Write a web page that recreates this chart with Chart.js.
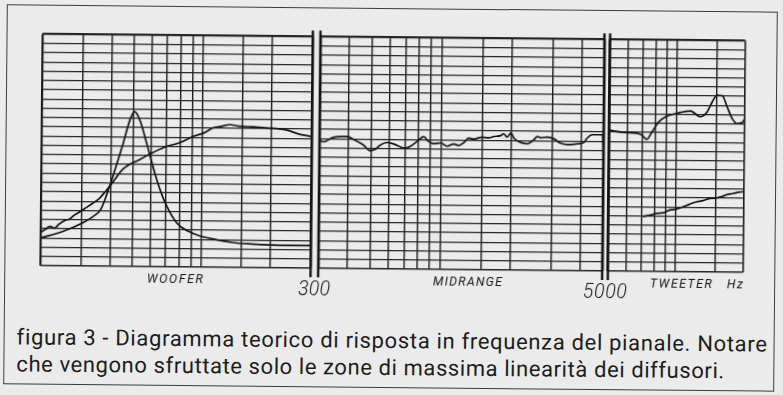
<!DOCTYPE html>
<html lang="it">
<head>
<meta charset="utf-8">
<title>figura 3 - risposta in frequenza del pianale</title>
<script src="https://cdn.jsdelivr.net/npm/chart.js@4.4.1/dist/chart.umd.min.js"></script>
<style>
  html, body { margin:0; padding:0; width:783px; height:395px; overflow:hidden; background:#ebebeb; }
  #sheet { position:absolute; left:0; top:0; width:783px; height:395px; transform:rotate(0.55deg); transform-origin:391px 197px; }
  #frame { position:absolute; left:5px; top:8px; width:771px; height:380px; border:1px solid #3c3c3c; box-sizing:border-box; }
  #sheet canvas { position:absolute; top:0; }
  .caption { position:absolute; left:18px; margin:0; font-family:Roboto, "Liberation Sans", Arial, sans-serif; font-weight:400; font-size:22px; line-height:22px; color:#1d1d1d; white-space:nowrap; }
</style>
</head>
<body>
<div id="sheet">
  <div id="frame"></div>
  <canvas id="woofer" width="316" height="305" style="left:0px"></canvas>
  <canvas id="midrange" width="340" height="305" style="left:290px"></canvas>
  <canvas id="tweeter" width="208" height="305" style="left:575px"></canvas>
  <p class="caption" id="cap1" style="top:330px">figura 3 - Diagramma teorico di risposta in frequenza del pianale. Notare</p>
  <p class="caption" id="cap2" style="top:357px">che vengono sfruttate solo le zone di massima linearità dei diffusori.</p>
</div>
<script>
// Log-paper grid lines (Hz) for each band
const wooferGridHz  = [20, 30, 40, 50, 60, 70, 80, 90, 100, 150, 200, 300];
const midGridHz     = [300, 400, 500, 600, 700, 800, 900, 1000, 1500, 2000, 3000, 4000, 5000];
const tweeterGridHz = [5000, 6000, 7000, 8000, 9000, 10000, 15000, 20000];

// Crossover frequencies printed under the dividers
const crossoverLabels = ['300', '5000'];
const bandNames = ['WOOFER', 'MIDRANGE', 'TWEETER'];
const unitLabel = 'Hz';

// Woofer: resonance peak curve
const wooferPeakHz = [20, 24.8, 30.3, 33.5, 36.5, 40, 42.5, 45.3, 48.4, 50.6, 53.5, 57, 60.2, 64.2, 70, 78.4, 88, 97.6, 115, 136, 166, 200, 248, 300];
const wooferPeakDb = [6.0, 7.4, 9.3, 10.6, 12.4, 17.8, 22.0, 26.6, 31.7, 33.4, 31.5, 27.0, 22.8, 18.2, 13.4, 9.4, 7.7, 6.8, 6.0, 5.4, 5.1, 4.95, 4.9, 4.9];

// Woofer: response curve
const wooferResponseHz = [20, 21, 21.9, 22.9, 24, 25.6, 26.6, 27.8, 29.3, 31.4, 33.4, 35.8, 38.3, 40.5, 45.3, 53.5, 60.2, 70, 79.7, 91.2, 101.9, 111.3, 120, 131.7, 145, 166, 190, 231, 265, 300];
const wooferResponseDb = [7.2, 7.9, 8.5, 8.1, 9.0, 9.9, 10.1, 10.9, 11.6, 12.6, 13.5, 14.6, 16.3, 17.8, 21.0, 23.1, 24.5, 26.0, 26.8, 28.2, 29.0, 30.1, 30.4, 30.8, 30.5, 30.4, 30.2, 29.8, 28.9, 28.4];

// Midrange: response curve
const midResponseHz = [300, 312, 345, 394, 420, 464, 496, 521, 548, 585, 625, 700, 738, 800, 842, 885, 930, 1000, 1063, 1135, 1192, 1252, 1315, 1380, 1500, 1605, 1687, 1800, 1861, 1926, 2000, 2058, 2200, 2352, 2511, 2598, 2686, 2869, 3065, 3274, 3497, 3862, 4124, 4263, 4480, 4700, 4960, 5000];
const midResponseDb = [27.7, 27.3, 28.3, 28.5, 27.9, 26.7, 25.5, 25.8, 26.7, 27.3, 27.0, 26.1, 26.5, 27.8, 28.6, 27.6, 27.1, 27.3, 26.6, 27.1, 26.8, 27.4, 28.4, 28.2, 28.6, 28.5, 28.8, 29.0, 29.4, 28.7, 29.6, 28.5, 27.6, 27.3, 28.2, 28.9, 28.6, 28.8, 28.4, 27.5, 27.2, 27.4, 27.7, 28.7, 29.4, 29.4, 29.4, 25.1];

// Tweeter: response curve
const tweeterResponseHz = [5000, 5790, 6646, 7000, 7363, 7755, 8300, 8891, 10025, 11490, 12740, 13650, 14360, 15100, 15900, 16740, 17630, 18560, 19540, 20000];
const tweeterResponseDb = [30.4, 29.95, 29.8, 29.4, 28.5, 30.1, 32.3, 33.4, 34.2, 34.7, 33.5, 34.6, 36.75, 38.2, 38.1, 35.7, 33.2, 32.1, 32.3, 33.0];

// Tweeter: lower curve
const tweeterLowerHz = [7116, 7600, 8166, 8800, 9364, 10000, 10730, 11500, 12320, 13200, 14120, 15100, 16170, 17000, 17940, 19000, 20000];
const tweeterLowerDb = [11.9, 12.1, 12.55, 12.7, 13.3, 13.5, 14.0, 14.6, 15.1, 15.4, 15.9, 16.0, 16.4, 16.8, 17.0, 17.3, 17.4];

const ink = '#141414';
const toPoints = (hz, db) => hz.map((f, i) => ({ x: f, y: db[i] }));

// Per-canvas decoration (dividers and printed labels), kept outside Chart options
const decorByCanvas = new Map();

// Draw a string centred on x, spread out to a given total width
function spacedText(ctx, text, cx, y, width) {
  const chars = Array.from(text);
  const adv = chars.map(ch => ctx.measureText(ch).width);
  const natural = adv.reduce((s, w) => s + w, 0);
  const gap = width && chars.length > 1 ? (width - natural) / (chars.length - 1) : 0;
  const total = natural + gap * (chars.length - 1);
  let x = cx - total / 2;
  ctx.textAlign = 'left';
  chars.forEach((ch, i) => { ctx.fillText(ch, x, y); x += adv[i] + gap; });
}

const panelDecor = {
  id: 'panelDecor',
  afterDraw(chart) {
    const decor = decorByCanvas.get(chart.canvas.id);
    if (!decor) return;
    const { ctx, chartArea: a } = chart;
    const xs = chart.scales.x;
    ctx.save();
    ctx.strokeStyle = ink;
    ctx.lineWidth = 2.4;
    for (const side of decor.dividers) {
      const x = side === 'left' ? a.left : a.right;
      ctx.beginPath();
      ctx.moveTo(x, a.top - 6);
      ctx.lineTo(x, a.bottom + 9);
      ctx.stroke();
    }
    ctx.fillStyle = '#161616';
    ctx.textBaseline = 'alphabetic';
    for (const l of decor.labels) {
      ctx.font = `italic ${l.weight} ${l.size}px Roboto, "Liberation Sans", sans-serif`;
      const x = typeof l.at === 'number'
        ? xs.getPixelForValue(l.at) + l.dx
        : a.left + (a.right - a.left) * l.frac;
      spacedText(ctx, l.text, x, a.bottom + l.dy, l.width);
    }
    ctx.restore();
  }
};

function makePanel(id, cfg) {
  decorByCanvas.set(id, { dividers: cfg.dividers, labels: cfg.labels });
  return new Chart(document.getElementById(id), {
    type: 'line',
    data: {
      datasets: cfg.series.map(s => ({
        data: toPoints(s.hz, s.db),
        borderColor: ink,
        borderWidth: 1.7,
        pointRadius: 0,
        cubicInterpolationMode: 'monotone',
        fill: false
      }))
    },
    options: {
      responsive: false,
      animation: false,
      devicePixelRatio: 1,
      events: [],
      layout: { padding: cfg.pad },
      plugins: { legend: { display: false }, tooltip: { enabled: false } },
      scales: {
        x: {
          type: 'logarithmic',
          min: cfg.minHz,
          max: cfg.maxHz,
          afterBuildTicks: sc => { sc.ticks = cfg.gridHz.map(v => ({ value: v })); },
          ticks: { display: false },
          border: { display: false },
          grid: {
            drawTicks: false,
            color: '#1c1c1c',
            lineWidth: c => c.tick.value === cfg.minHz ? cfg.edgeWidths[0]
                          : c.tick.value === cfg.maxHz ? cfg.edgeWidths[1] : 1.4
          }
        },
        y: {
          type: 'linear',
          min: 0,
          max: 50,
          ticks: { display: false, stepSize: 2 },
          border: { display: false },
          grid: {
            drawTicks: false,
            color: '#262626',
            lineWidth: c => c.tick.value === 50 ? 2.2 : c.tick.value === 0 ? 1.5 : 1.15
          }
        }
      }
    },
    plugins: [panelDecor]
  });
}

makePanel('woofer', {
  minHz: 20, maxHz: 300, gridHz: wooferGridHz,
  pad: { left: 41.2, right: 4.7, top: 37.3, bottom: 36 },
  edgeWidths: [2.2, 2.4],
  dividers: ['right'],
  labels: [{ text: bandNames[0], frac: 0.498, dy: 16, size: 12.4, weight: 400, width: 56 }],
  series: [
    { hz: wooferPeakHz, db: wooferPeakDb },
    { hz: wooferResponseHz, db: wooferResponseDb }
  ]
});

makePanel('midrange', {
  minHz: 300, maxHz: 5000, gridHz: midGridHz,
  pad: { left: 28.9, right: 27.1, top: 37.3, bottom: 36 },
  edgeWidths: [2.4, 2.4],
  dividers: ['left', 'right'],
  labels: [
    { text: bandNames[1], frac: 0.526, dy: 16, size: 12.4, weight: 400, width: 69 },
    { text: crossoverLabels[0], at: 300, dx: -3.8, dy: 27, size: 19.5, weight: 300, width: 32 },
    { text: crossoverLabels[1], at: 5000, dx: 2.9, dy: 27, size: 19.5, weight: 300, width: 44 }
  ],
  series: [{ hz: midResponseHz, db: midResponseDb }]
});

makePanel('tweeter', {
  minHz: 5000, maxHz: 20000, gridHz: tweeterGridHz,
  pad: { left: 33.6, right: 39.4, top: 37.3, bottom: 36 },
  edgeWidths: [2.4, 1.6],
  dividers: ['left'],
  labels: [
    { text: bandNames[2], frac: 0.542, dy: 16, size: 12.4, weight: 400, width: 62 },
    { text: unitLabel, frac: 0.942, dy: 16, size: 12.4, weight: 400, width: 16 }
  ],
  series: [
    { hz: tweeterResponseHz, db: tweeterResponseDb },
    { hz: tweeterLowerHz, db: tweeterLowerDb }
  ]
});

// Caption lines set to their printed widths
for (const [id, target] of [['cap1', 750], ['cap2', 708]]) {
  const el = document.getElementById(id);
  el.style.letterSpacing = '0px';
  const natural = el.offsetWidth;
  const n = el.textContent.length;
  el.style.letterSpacing = ((target - natural) / n) + 'px';
}
</script>
</body>
</html>
